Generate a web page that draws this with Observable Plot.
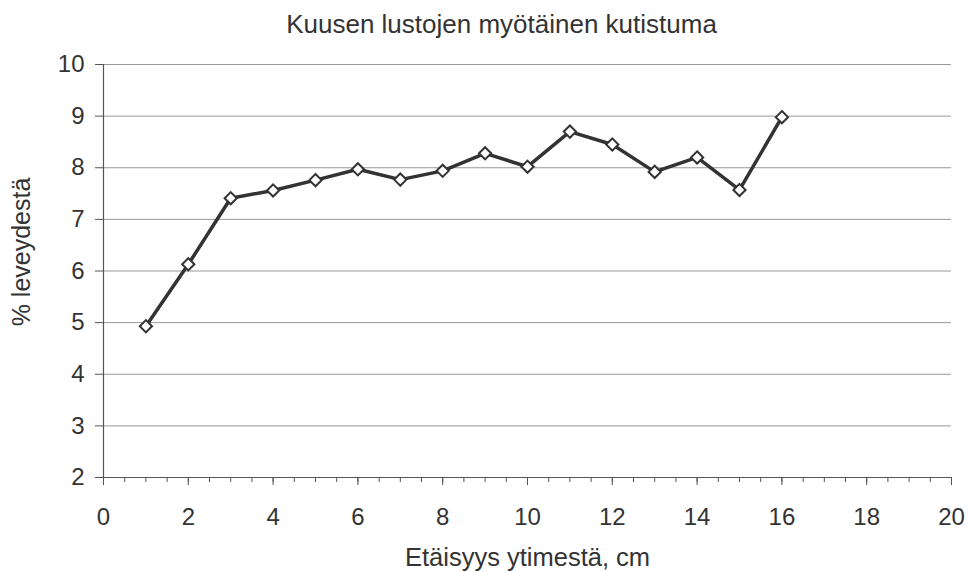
<!DOCTYPE html>
<html>
<head>
<meta charset="utf-8">
<script src="https://cdn.jsdelivr.net/npm/d3@7"></script>
<script src="https://cdn.jsdelivr.net/npm/@observablehq/plot@0.6"></script>
<style>
  html, body { margin: 0; padding: 0; background: #fff; }
</style>
</head>
<body>
<div id="chart"></div>
<script>
const title = "Kuusen lustojen myötäinen kutistuma";
const xLabel = "Etäisyys ytimestä, cm";
const yLabel = "% leveydestä";
const distance = [1, 2, 3, 4, 5, 6, 7, 8, 9, 10, 11, 12, 13, 14, 15, 16];
const shrinkage = [4.93, 6.13, 7.41, 7.56, 7.76, 7.97, 7.77, 7.94, 8.28, 8.02, 8.70, 8.45, 7.92, 8.20, 7.57, 8.98];
const xMajorTicks = [0, 2, 4, 6, 8, 10, 12, 14, 16, 18, 20];
const xMinorTicks = d3.range(0, 20.5, 0.5);
const yTicks = [2, 3, 4, 5, 6, 7, 8, 9, 10];

const data = distance.map((d, i) => ({x: d, y: shrinkage[i]}));

const chart = Plot.plot({
  width: 970,
  height: 572,
  marginLeft: 103,
  marginRight: 19,
  marginTop: 64,
  marginBottom: 95,
  style: {fontFamily: "'Liberation Sans', Arial, sans-serif", fontSize: "24px", color: "#333", background: "#fff"},
  x: {domain: [0, 20]},
  y: {domain: [2, 10]},
  marks: [
    Plot.gridY(yTicks, {stroke: "#999", strokeOpacity: 1, strokeWidth: 1}),
    Plot.axisY(yTicks, {tickSize: 8, tickPadding: 11, stroke: "#555", fontSize: 24, tickFormat: "d", label: null}),
    Plot.axisX(xMinorTicks, {tickSize: 5, text: null, stroke: "#555", label: null}),
    Plot.axisX(xMajorTicks, {tickSize: 8, tickPadding: 22, stroke: "#555", fontSize: 24, tickFormat: "d", label: null}),
    Plot.ruleX([0], {stroke: "#555", strokeWidth: 1.2}),
    Plot.ruleY([2], {stroke: "#555", strokeWidth: 1.2}),
    Plot.line(data, {x: "x", y: "y", stroke: "#333", strokeWidth: 3.5}),
    Plot.dot(data, {x: "x", y: "y", symbol: "diamond2", r: 5.5, fill: "#fff", stroke: "#333", strokeWidth: 2}),
    Plot.text([title], {frameAnchor: "top", dx: -26, dy: -50, fontSize: 26, fill: "#333"}),
    Plot.text([yLabel], {frameAnchor: "left", textAnchor: "middle", lineAnchor: "middle", dx: -82, dy: -19, rotate: -90, fontSize: 25, fill: "#333"}),
    Plot.text([xLabel], {frameAnchor: "bottom", dy: 88, fontSize: 25.5, fill: "#333"})
  ]
});
document.getElementById("chart").appendChild(chart);
</script>
</body>
</html>
